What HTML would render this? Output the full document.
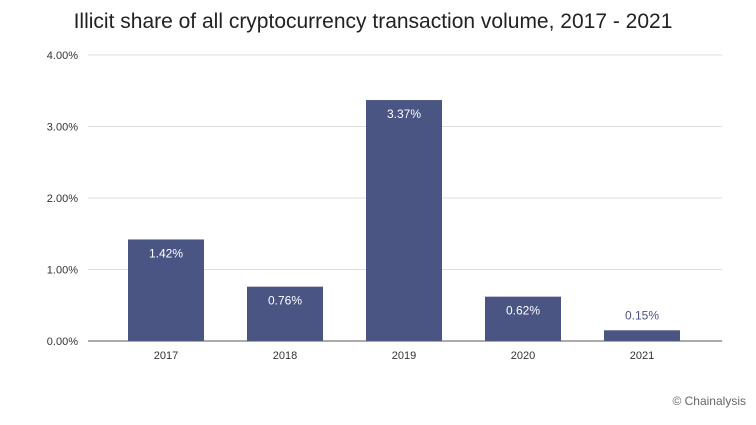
<!DOCTYPE html>
<html><head><meta charset="utf-8"><style>
body{margin:0;background:#fff;width:756px;height:420px;overflow:hidden;font-family:"Liberation Sans",sans-serif}
</style></head><body>
<svg width="756" height="420" font-family="Liberation Sans, sans-serif">
<text x="373" y="28" text-anchor="middle" font-size="21" fill="#222">Illicit share of all cryptocurrency transaction volume, 2017 - 2021</text>
<g id="grid"></g><g id="bars"></g>
<text x="746" y="405" text-anchor="end" font-size="12" fill="#666">© Chainalysis</text>
</svg>
<script>
const categories=["2017","2018","2019","2020","2021"];
const values=[1.42,0.76,3.37,0.62,0.15];
const ticks=[0,1,2,3,4];
const NS="http://www.w3.org/2000/svg";
const y0=341,pxPer=71.5;
function y(v){return y0-v*pxPer;}
function x(i){return 166+i*119;}
const bw=76;
const grid=document.getElementById('grid'),bars=document.getElementById('bars');
function mk(t,a,p){const e=document.createElementNS(NS,t);for(const k in a)e.setAttribute(k,a[k]);p.appendChild(e);return e;}
ticks.forEach(t=>{
 const l=mk('line',{x1:88,x2:722,y1:y(t),y2:y(t),stroke:t===0?'#555':'#ddd','stroke-width':1},grid);
 
 
 const tx=mk('text',{x:78,y:y(t)+4,'text-anchor':'end','font-size':11,fill:'#333'},grid);
 tx.textContent=t.toFixed(2)+'%';
 
 
});
categories.forEach((c,i)=>{
 const v=values[i];
 const r=mk('rect',{x:x(i)-bw/2,y:y(v),width:bw,height:y0-y(v),fill:'#4a5584'},bars);
 
 
 const inside=(y0-y(v))>30;
 const t=mk('text',{x:x(i),y:inside?y(v)+18:y(v)-11,'text-anchor':'middle','font-size':12,fill:inside?'#fff':'#4a5584'},bars);
 t.textContent=v.toFixed(2)+'%';
 
 
 const xl=mk('text',{x:x(i),y:359,'text-anchor':'middle','font-size':11,fill:'#333'},bars);
 xl.textContent=c;
 
 
});
</script>
</body></html>
